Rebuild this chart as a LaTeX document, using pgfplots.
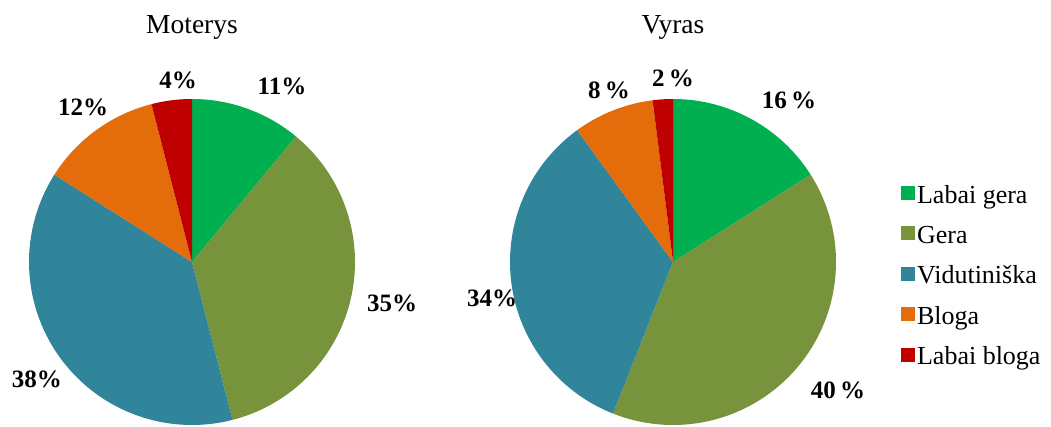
\documentclass[border=0pt]{standalone}
\usepackage{pgfplots}
\pgfplotsset{compat=1.18}
\usepackage{pgfplotstable}
\usepackage{fontspec}
\setmainfont{Liberation Serif}

\definecolor{cGreen}{HTML}{00B050}
\definecolor{cOlive}{HTML}{77933C}
\definecolor{cTeal}{HTML}{31859B}
\definecolor{cOrange}{HTML}{E46C0A}
\definecolor{cRed}{HTML}{C00000}

% shares in percent, clockwise from the top
\pgfplotstableread{
category value
LabaiGera 11
Gera 35
Vidutiniska 38
Bloga 12
LabaiBloga 4
}\moterys
\pgfplotstableread{
category value
LabaiGera 16
Gera 40
Vidutiniska 34
Bloga 8
LabaiBloga 2
}\vyras

\newcommand{\drawpie}[1]{%
  \gdef\cum{0}%
  \foreach \i/\c in {0/cGreen,1/cOlive,2/cTeal,3/cOrange,4/cRed}{%
    \pgfplotstablegetelem{\i}{value}\of{#1}%
    \pgfmathsetmacro\a{90-3.6*\cum}%
    \pgfmathsetmacro\b{90-3.6*(\cum+\pgfplotsretval)}%
    \pgfmathsetmacro\newcum{\cum+\pgfplotsretval}%
    \xdef\cum{\newcum}%
    \edef\tmp{\noexpand\addplot[fill=\c,draw=none,domain=\b:\a,samples=120,variable=\noexpand\t]
      ({cos(\noexpand\t)},{sin(\noexpand\t)}) -- (axis cs:0,0) -- cycle;}%
    \tmp
  }%
}

\pgfplotsset{pieaxis/.style={
  hide axis, scale only axis, clip=false,
  width=326pt, height=326pt,
  xmin=-1, xmax=1, ymin=-1, ymax=1,
  anchor=center}}

\begin{document}
\begin{tikzpicture}[x=1pt,y=1pt]
\path[use as bounding box] (0,0) rectangle (1051,426);

\begin{axis}[pieaxis, at={(192pt,164pt)}]
  \drawpie{\moterys}
\end{axis}

\begin{axis}[pieaxis, at={(673pt,164pt)},
  legend style={draw=none, fill=none, at={(1.199,0.457)}, anchor=west,
    font=\fontsize{26}{30}\selectfont, row sep=17pt, inner sep=0pt,
    cells={anchor=west}},
  legend image code/.code={\fill[#1] (0pt,-5pt) rectangle (14pt,9pt);}]
  \drawpie{\vyras}
  \legend{Labai gera, Gera, Vidutini\v{s}ka, Bloga, Labai bloga}
\end{axis}

% titles
\node[font=\fontsize{27.5}{32}\selectfont] at (192,399) {Moterys};
\node[font=\fontsize{27.5}{32}\selectfont] at (673,399) {Vyras};

% percentage labels
\begin{scope}[every node/.style={font=\fontsize{25}{29}\selectfont\bfseries}]
\node at (282,340) {11\%};
\node at (392,123) {35\%};
\node at (37,47) {38\%};
\node at (83,319) {12\%};
\node at (178,346) {4\%};
\node at (789,326) {16\,\%};
\node at (838,36) {40\,\%};
\node at (492,128) {34\%};
\node at (609,336) {8\,\%};
\node at (673,348) {2\,\%};
\end{scope}
\end{tikzpicture}
\end{document}
